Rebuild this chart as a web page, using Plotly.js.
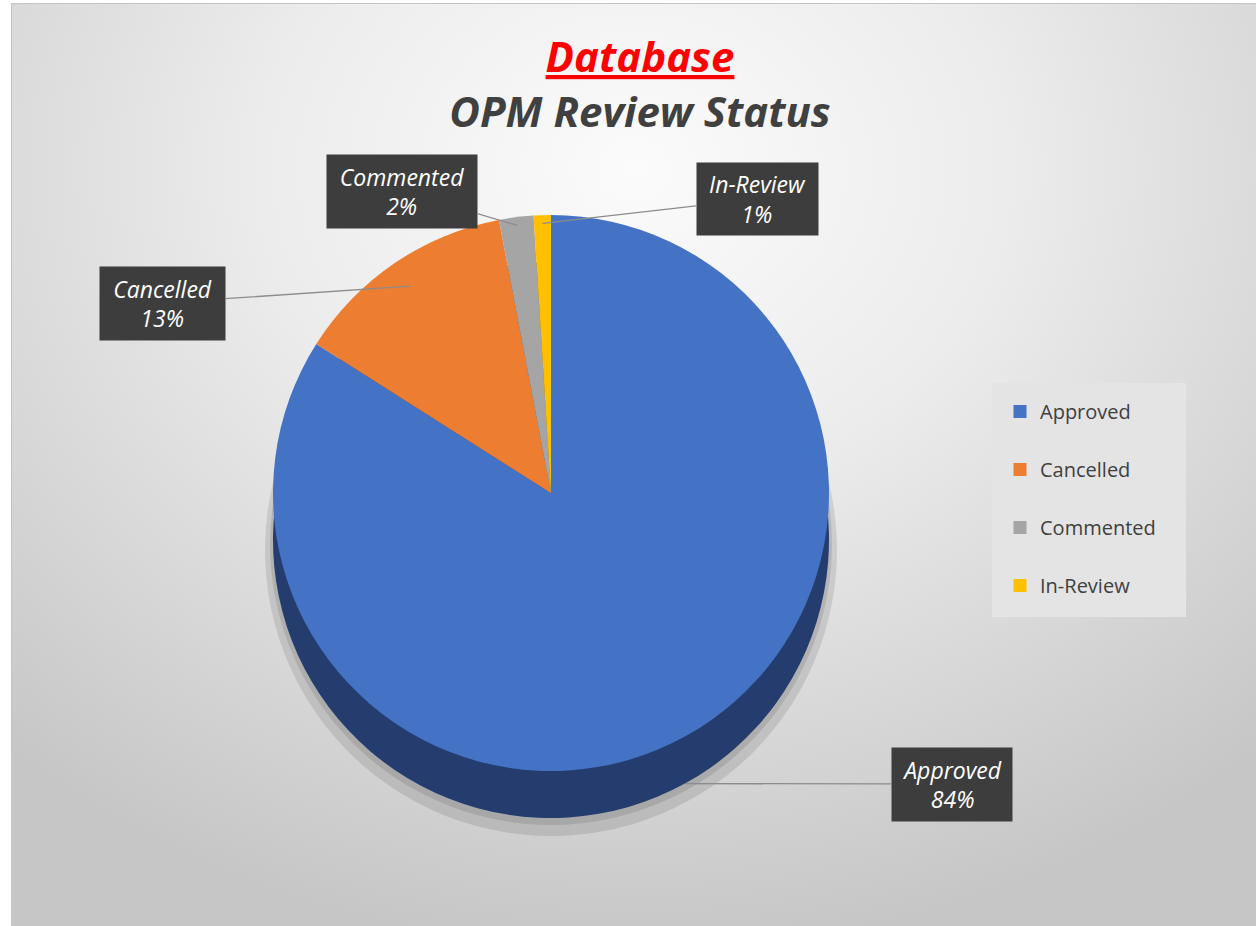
<!DOCTYPE html>
<html>
<head>
<meta charset="utf-8">
<script src="https://cdn.plot.ly/plotly-3.0.1.min.js"></script>
<style>
  html, body { margin:0; padding:0; background:#ffffff; width:1256px; height:926px; overflow:hidden; }
  #bg { position:absolute; left:11px; top:3px; width:1245px; height:923px;
        background: radial-gradient(ellipse 75% 85% at 50% 18%, #fbfbfb 0%, #ececec 40%, #d6d6d6 75%, #c6c6c6 100%);
        border-left:1px solid #c4c4c4; border-top:1px solid #c4c4c4; box-sizing:border-box; }
  #chart { position:absolute; left:0; top:0; width:1256px; height:926px; }
</style>
</head>
<body>
<div id="bg"></div>
<div id="chart"></div>
<script>
// ---- data ----
const labels = ['Approved', 'Cancelled', 'Commented', 'In-Review'];
const values = [84, 13, 2, 1];
const colors = ['#4472c4', '#ed7d31', '#a5a5a5', '#ffc000'];
const sideColors = ['#253d6e', '#8a4a1e', '#5f5f5f', '#8c6a00'];
const shadowColors = ['rgba(0,0,0,0.10)', 'rgba(0,0,0,0.10)', 'rgba(0,0,0,0.10)', 'rgba(0,0,0,0.10)'];
const titleMain = 'Database';
const titleSub = 'OPM Review Status';

// ---- layout geometry (pixels) ----
const W = 1256, H = 926;
const CX = 551, CY = 493, R = 278, DEPTH = 47;
// label box centres & sizes
const boxes = [
  {cx: 952, cy: 784, w: 120, h: 73, rf: 1.0, side: true},
  {cx: 162, cy: 303, w: 125, h: 73, rf: 0.9},
  {cx: 402, cy: 191, w: 150, h: 73, rf: 0.97},
  {cx: 757, cy: 199, w: 121, h: 72, rf: 0.97}
];

function dom(cy, r) {
  return {
    x: [(CX - r) / W, (CX + r) / W],
    y: [(H - cy - r) / H, (H - cy + r) / H]
  };
}

const total = values.reduce((a, b) => a + b, 0);

const pieBase = {
  type: 'pie', labels: labels, values: values, sort: false,
  direction: 'clockwise', rotation: 0, textinfo: 'none',
  hoverinfo: 'skip', showlegend: false
};

const traces = [
  Object.assign({}, pieBase, {domain: dom(CY + DEPTH + 10, R + 8), marker: {colors: shadowColors, line: {width: 0}}}),
  Object.assign({}, pieBase, {domain: dom(CY + DEPTH + 4, R + 3), marker: {colors: shadowColors, line: {width: 0}}}),
  Object.assign({}, pieBase, {domain: dom(CY + DEPTH, R), marker: {colors: sideColors, line: {width: 0}}}),
  Object.assign({}, pieBase, {domain: dom(CY, R), marker: {colors: colors, line: {width: 0}}})
];

labels.forEach((lab, i) => {
  traces.push({
    type: 'scatter', mode: 'markers', x: [null], y: [null], name: lab,
    legendgroup: lab, hoverinfo: 'skip',
    marker: {symbol: 'square', size: 13, color: colors[i], line: {width: 0}}
  });
});

// annotations for data labels
const annotations = [];
let cum = 0;
values.forEach((v, i) => {
  const mid = (cum + v / 2) / total * 2 * Math.PI;
  cum += v;
  const b = boxes[i];
  const cy = b.side ? CY + DEPTH : CY;
  const px = CX + Math.sin(mid) * R * b.rf;
  const py = cy - Math.cos(mid) * R * b.rf;
  const pct = Math.round(v / total * 100);
  annotations.push({
    xref: 'paper', yref: 'paper', x: px / W, y: 1 - py / H,
    ax: b.cx - px, ay: b.cy - py,
    text: '<i>' + labels[i] + '</i><br><i>' + pct + '%</i>',
    showarrow: true, arrowhead: 0, arrowwidth: 1.3, arrowcolor: '#8c8c8c',
    bgcolor: '#3d3d3d', borderpad: 0, width: b.w, height: b.h,
    font: {family: 'Open Sans', size: 23, color: '#ffffff'}
  });
});

const layout = {
  width: W, height: H,
  margin: {l: 0, r: 0, t: 0, b: 0},
  paper_bgcolor: 'rgba(0,0,0,0)', plot_bgcolor: 'rgba(0,0,0,0)',
  title: {
    text: '<span style="color:#ff0000"><u>' + titleMain + '</u></span><br>' + titleSub,
    x: 640 / W, xanchor: 'center', xref: 'paper',
    y: 1 - 72 / H, yanchor: 'top', yref: 'container',
    font: {family: 'Open Sans', size: 42, weight: 'bold', style: 'italic', color: '#404040'}
  },
  xaxis: {visible: false, range: [0, 1]},
  yaxis: {visible: false, range: [0, 1]},
  shapes: [{
    type: 'rect', xref: 'paper', yref: 'paper', layer: 'below',
    x0: 992 / W, x1: 1186 / W, y0: 1 - 617 / H, y1: 1 - 383 / H,
    fillcolor: '#e4e4e4', line: {width: 0}
  }],
  showlegend: true,
  legend: {
    x: 1000 / W, y: 1 - 392 / H, xanchor: 'left', yanchor: 'top',
    bgcolor: 'rgba(0,0,0,0)', borderwidth: 0,
    font: {family: 'Open Sans', size: 20, color: '#404040'},
    traceorder: 'grouped', tracegroupgap: 29, itemclick: false, itemdoubleclick: false
  },
  annotations: annotations
};

Plotly.newPlot('chart', traces, layout, {displayModeBar: false, staticPlot: true});
</script>
</body>
</html>
